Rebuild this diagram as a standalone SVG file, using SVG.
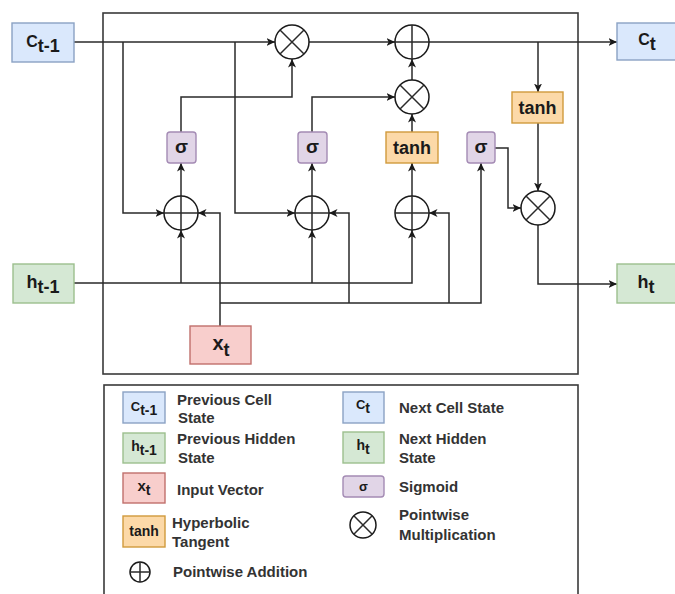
<svg xmlns="http://www.w3.org/2000/svg" width="675" height="594" viewBox="0 0 675 594">
<style>
  text { font-family: "Liberation Sans", Arial, sans-serif; fill: #1a1a1a; }
  .frame { fill: none; stroke: #3a3a3a; stroke-width: 1.6; }
  .ln { fill: none; stroke: #2a2a2a; stroke-width: 1.5; }
  .arr { marker-end: url(#ah); }
  .op { fill: #ffffff; stroke: #1a1a1a; stroke-width: 1.5; }
  .blue { fill: #dae8fc; stroke: #8aa2c4; stroke-width: 1.4; }
  .green { fill: #d5e8d4; stroke: #9cbf8e; stroke-width: 1.4; }
  .red { fill: #f8cecc; stroke: #c0706c; stroke-width: 1.4; }
  .orange { fill: #fcd9a8; stroke: #d19a3c; stroke-width: 1.4; }
  .purple { fill: #e1d5e7; stroke: #a48bb4; stroke-width: 1.4; }
  .b { font-weight: bold; }
  .lbl { font-weight: bold; font-size: 15px; fill: #333333; }
</style>
<defs>
  <marker id="ah" markerWidth="9" markerHeight="8" refX="8.5" refY="4" orient="auto" markerUnits="userSpaceOnUse">
    <path d="M0,0 L8.5,4 L0,8 L2.2,4 Z" fill="#1a1a1a"/>
  </marker>
</defs>

<rect class="frame" x="103" y="13" width="475" height="361"/>
<rect class="frame" x="104" y="385" width="474" height="220"/>

<g id="connectors">
  <path class="ln arr" d="M74,42 H275"/>
  <path class="ln arr" d="M309,42 H395"/>
  <path class="ln arr" d="M429,42 H617"/>
  <path class="ln arr" d="M538,42 V92"/>
  <path class="ln arr" d="M538,123 V191"/>
  <path class="ln arr" d="M538,225 V284 H617"/>
  <path class="ln arr" d="M495,148 H508 V208 H521"/>
  <path class="ln arr" d="M123,42 V213 H164"/>
  <path class="ln arr" d="M235,42 V213 H295"/>
  <path class="ln arr" d="M181,132 V97 H292 V59"/>
  <path class="ln arr" d="M312,132 V97 H395"/>
  <path class="ln arr" d="M412,132 V114"/>
  <path class="ln arr" d="M412,80 V59"/>
  <path class="ln arr" d="M181,196 V163"/>
  <path class="ln arr" d="M312,196 V163"/>
  <path class="ln arr" d="M412,196 V163"/>
  <path class="ln arr" d="M74,283 H412 V230"/>
  <path class="ln arr" d="M181,283 V230"/>
  <path class="ln arr" d="M312,283 V230"/>
  <path class="ln arr" d="M220,326 V213 H198"/>
  <path class="ln arr" d="M220,303 H481 V163"/>
  <path class="ln arr" d="M349,303 V213 H329"/>
  <path class="ln arr" d="M449,303 V213 H429"/>
</g>

<g id="c_prev">
  <rect class="blue" x="12" y="23" width="62" height="39"/>
  <text x="43" y="47" text-anchor="middle" class="b" font-size="16">C<tspan dy="5" font-size="18">t-1</tspan></text>
</g>
<g id="c_next">
  <rect class="blue" x="617" y="23" width="62" height="37"/>
  <text x="647" y="45" text-anchor="middle" class="b" font-size="16">C<tspan dy="5" font-size="18">t</tspan></text>
</g>
<g id="h_prev">
  <rect class="green" x="13" y="264" width="61" height="39"/>
  <text x="43" y="288" text-anchor="middle" class="b" font-size="18">h<tspan dy="5" font-size="18">t-1</tspan></text>
</g>
<g id="h_next">
  <rect class="green" x="617" y="264" width="62" height="39"/>
  <text x="646" y="288" text-anchor="middle" class="b" font-size="18">h<tspan dy="5" font-size="18">t</tspan></text>
</g>
<g id="x_t">
  <rect class="red" x="190" y="326" width="61" height="38"/>
  <text x="221" y="350" text-anchor="middle" class="b" font-size="20">x<tspan dy="6" font-size="18">t</tspan></text>
</g>

<g id="sigma_f">
  <rect class="purple" x="167" y="132" width="29" height="31" rx="3"/>
  <text x="181.5" y="153" text-anchor="middle" class="b" font-size="19">σ</text>
</g>
<g id="sigma_i">
  <rect class="purple" x="298" y="132" width="29" height="31" rx="3"/>
  <text x="312.5" y="153" text-anchor="middle" class="b" font-size="19">σ</text>
</g>
<g id="tanh_c">
  <rect class="orange" x="386" y="132" width="52" height="31"/>
  <text x="412" y="154" text-anchor="middle" class="b" font-size="18">tanh</text>
</g>
<g id="sigma_o">
  <rect class="purple" x="467" y="132" width="28" height="31" rx="3"/>
  <text x="481" y="153" text-anchor="middle" class="b" font-size="19">σ</text>
</g>
<g id="tanh_h">
  <rect class="orange" x="512" y="92" width="51" height="31"/>
  <text x="537.5" y="114" text-anchor="middle" class="b" font-size="18">tanh</text>
</g>

<g id="mul_f">
  <circle class="op" cx="292" cy="42" r="17"/>
  <path class="ln" d="M280,30 L304,54 M304,30 L280,54"/>
</g>
<g id="add_c">
  <circle class="op" cx="412" cy="42" r="17"/>
  <path class="ln" d="M395,42 H429 M412,25 V59"/>
</g>
<g id="mul_i">
  <circle class="op" cx="412" cy="97" r="17"/>
  <path class="ln" d="M400,85 L424,109 M424,85 L400,109"/>
</g>
<g id="add_f">
  <circle class="op" cx="181" cy="213" r="17"/>
  <path class="ln" d="M164,213 H198 M181,196 V230"/>
</g>
<g id="add_i">
  <circle class="op" cx="312" cy="213" r="17"/>
  <path class="ln" d="M295,213 H329 M312,196 V230"/>
</g>
<g id="add_g">
  <circle class="op" cx="412" cy="213" r="17"/>
  <path class="ln" d="M395,213 H429 M412,196 V230"/>
</g>
<g id="mul_o">
  <circle class="op" cx="538" cy="208" r="17"/>
  <path class="ln" d="M526,196 L550,220 M550,196 L526,220"/>
</g>

<g id="legend">
  <g id="lg_cprev">
    <rect class="blue" x="123" y="392" width="42" height="31"/>
    <text x="144" y="411" text-anchor="middle" class="b" font-size="13">C<tspan dy="4" font-size="14">t-1</tspan></text>
    <text class="lbl" x="177" y="405">Previous Cell</text>
    <text class="lbl" x="178" y="423">State</text>
  </g>
  <g id="lg_hprev">
    <rect class="green" x="123" y="433" width="42" height="30"/>
    <text x="144" y="451" text-anchor="middle" class="b" font-size="14">h<tspan dy="4" font-size="14">t-1</tspan></text>
    <text class="lbl" x="177" y="444">Previous Hidden</text>
    <text class="lbl" x="178" y="463">State</text>
  </g>
  <g id="lg_x">
    <rect class="red" x="123" y="473" width="42" height="30"/>
    <text x="144" y="491" text-anchor="middle" class="b" font-size="15">x<tspan dy="4" font-size="14">t</tspan></text>
    <text class="lbl" x="177" y="495">Input Vector</text>
  </g>
  <g id="lg_tanh">
    <rect class="orange" x="123" y="516" width="42" height="31"/>
    <text x="144" y="536" text-anchor="middle" class="b" font-size="14">tanh</text>
    <text class="lbl" x="172" y="528">Hyperbolic</text>
    <text class="lbl" x="172" y="547">Tangent</text>
  </g>
  <g id="lg_add">
    <circle class="op" cx="140" cy="572" r="10"/>
    <path class="ln" d="M130,572 H150 M140,562 V582"/>
    <text class="lbl" x="173" y="577">Pointwise Addition</text>
  </g>
  <g id="lg_cnext">
    <rect class="blue" x="343" y="392" width="41" height="31"/>
    <text x="363" y="409" text-anchor="middle" class="b" font-size="13">C<tspan dy="4" font-size="14">t</tspan></text>
    <text class="lbl" x="399" y="413">Next Cell State</text>
  </g>
  <g id="lg_hnext">
    <rect class="green" x="343" y="432" width="41" height="31"/>
    <text x="363" y="450" text-anchor="middle" class="b" font-size="14">h<tspan dy="4" font-size="14">t</tspan></text>
    <text class="lbl" x="399" y="444">Next Hidden</text>
    <text class="lbl" x="399" y="463">State</text>
  </g>
  <g id="lg_sigma">
    <rect class="purple" x="343" y="476" width="41" height="21" rx="3"/>
    <text x="363.5" y="491" text-anchor="middle" class="b" font-size="13">σ</text>
    <text class="lbl" x="399" y="492">Sigmoid</text>
  </g>
  <g id="lg_mul">
    <circle class="op" cx="363" cy="525" r="13"/>
    <path class="ln" d="M353.8,515.8 L372.2,534.2 M372.2,515.8 L353.8,534.2"/>
    <text class="lbl" x="399" y="520">Pointwise</text>
    <text class="lbl" x="399" y="540">Multiplication</text>
  </g>
</g>
</svg>
